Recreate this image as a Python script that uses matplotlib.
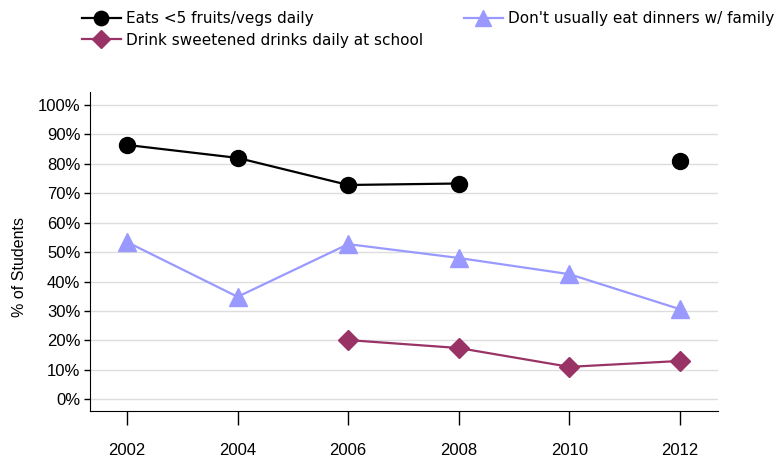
import matplotlib
matplotlib.use("Agg")
import matplotlib.pyplot as plt
import numpy as np

years = [2002, 2004, 2006, 2008, 2010, 2012]
fruits = [86.4, 82.0, 72.8, 73.3, np.nan, 81.0]
dinners = [53.4, 34.8, 52.7, 48.0, 42.5, 30.6]
drinks = [np.nan, np.nan, 20.1, 17.4, 11.0, 13.0]
yticks = list(range(0, 101, 10))

fig = plt.figure(figsize=(7.8, 4.62), dpi=100)
ax = fig.add_axes([0.1154, 0.1104, 0.8051, 0.6905])

l1, = ax.plot(years, fruits, color='black', lw=1.6, marker='o', ms=11.5, label='Eats <5 fruits/vegs daily')
l3, = ax.plot(years, drinks, color='#993366', lw=1.6, marker='D', ms=10, label='Drink sweetened drinks daily at school')
l2, = ax.plot(years, dinners, color='#9999ff', lw=1.6, marker='^', ms=13, label="Don't usually eat dinners w/ family")

ax.set_xlim(2001.33, 2012.69)
ax.set_ylim(-4, 104.4)
ax.set_xticks(years)
ax.set_xticklabels([str(y) for y in years], fontfamily='Liberation Sans', fontsize=12)
ax.set_yticks(yticks)
ax.set_yticklabels([f'{t}%' for t in yticks], fontfamily='Liberation Sans', fontsize=12)
ax.tick_params(axis='x', length=10, pad=13, width=1)
ax.tick_params(axis='y', length=4, pad=3, width=1)
ax.grid(axis='y', color='#dddddd', lw=1)
ax.set_axisbelow(True)
for s in ['top', 'right']:
    ax.spines[s].set_visible(False)
ax.set_ylabel('% of Students', fontfamily='Liberation Sans', fontsize=11.5)
ax.yaxis.set_label_coords(-0.1, 0.45)

fig.legend(handles=[l1, l3, l2], ncol=2, loc='upper left', bbox_to_anchor=(0.088, 1.005),
           frameon=False, fontsize=11, handlelength=2.5, handletextpad=0.35,
           columnspacing=2.7, labelspacing=0.4, markerscale=0.9)

fig.savefig('out.png', dpi=100)
